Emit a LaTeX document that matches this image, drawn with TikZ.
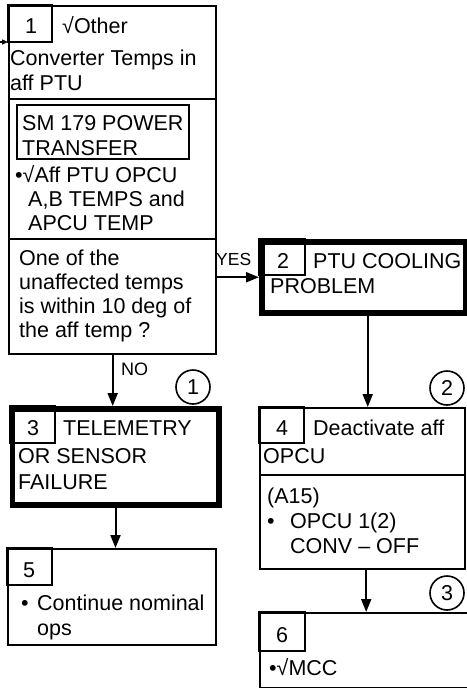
\documentclass[tikz,border=0pt]{standalone}
\usepackage{fontspec}
\setmainfont{Liberation Sans}
\usetikzlibrary{arrows.meta}
\begin{document}
\begin{tikzpicture}[x=1pt,y=-1pt,
  box/.style={draw, line width=2.4pt, inner sep=0pt, anchor=north west},
  thickbox/.style={box, line width=5.5pt},
  numbox/.style={draw, line width=1.8pt},
  divider/.style={draw, line width=2.4pt},
  txt/.style={anchor=base west, inner sep=0pt, font=\fontsize{21.5}{25}\selectfont},
  num/.style={anchor=base, inner sep=0pt, font=\fontsize{21.5}{25}\selectfont},
  lbl/.style={anchor=base west, inner sep=0pt, font=\fontsize{17.5}{20}\selectfont},
  arr/.style={line width=2pt, -{Triangle[length=13pt,width=10pt]}},
  circ/.style={circle, draw, line width=1.6pt, minimum size=34pt, inner sep=0pt, font=\fontsize{21.5}{25}\selectfont}]
\useasboundingbox (0,0) rectangle (466,688);

% boxes
\node[box, minimum width=207pt, minimum height=348pt] (b1) at (8,5) {};
\node[thickbox, minimum width=204pt, minimum height=71pt] (b2) at (259,239) {};
\node[thickbox, minimum width=206.5pt, minimum height=96pt] (b3) at (9.5,406) {};
\node[box, minimum width=205pt, minimum height=161pt] (b4) at (259,407) {};
\node[box, minimum width=208pt, minimum height=96pt] (b5) at (7,548) {};
\node[box, minimum width=209pt, minimum height=75pt] (b6) at (259,612) {};

% box 1 contents
\draw[numbox] (8,5) rectangle (52,42);
\node[num] (n1) at (31,33) {1};
\node[txt] (t1a) at (62,33) {√Other};
\node[txt] (t1b) at (10,65) {Converter Temps in};
\node[txt] (t1c) at (10,90) {aff PTU};
\draw[divider] (8,99) -- (215,99);
\draw[numbox] (17,105) rectangle (189,159);
\node[txt] (t1d) at (22,130) {SM 179 POWER};
\node[txt] (t1e) at (22,155) {TRANSFER};
\node[txt] (t1f) at (15,182) {•√Aff PTU OPCU};
\node[txt] (t1g) at (28,206) {A,B TEMPS and};
\node[txt] (t1h) at (28,230) {APCU TEMP};
\draw[divider] (8,239) -- (215,239);
\node[txt] (t1i) at (19,265) {One of the};
\node[txt] (t1j) at (19,289) {unaffected temps};
\node[txt] (t1k) at (19,313) {is within 10 deg of};
\node[txt] (t1l) at (19,337) {the aff temp ?};

% box 2 contents
\draw[numbox] (259,239) rectangle (305,275);
\node[num] (n2) at (283,268) {2};
\node[txt] (t2a) at (313,268) {PTU COOLING};
\node[txt] (t2b) at (270,293) {PROBLEM};

% box 3 contents
\draw[numbox] (9.5,406) rectangle (55,443);
\node[num] (n3) at (33,435) {3};
\node[txt] (t3a) at (63,435) {TELEMETRY};
\node[txt] (t3b) at (18,463) {OR SENSOR};
\node[txt] (t3c) at (18,489) {FAILURE};

% box 4 contents
\draw[numbox] (259,407) rectangle (304,443);
\node[num] (n4) at (282,435) {4};
\node[txt] (t4a) at (313,435) {Deactivate aff};
\node[txt] (t4b) at (263,463) {OPCU};
\draw[divider] (259,475) -- (464,475);
\node[txt] (t4c) at (267,503) {(A15)};
\node[txt] (t4d) at (267,528) {•};
\node[txt] (t4e) at (290,528) {OPCU 1(2)};
\node[txt] (t4f) at (290,553) {CONV – OFF};

% box 5 contents
\draw[numbox] (7,548) rectangle (52,585);
\node[num] (n5) at (29,577) {5};
\node[txt] (t5a) at (21,610) {•};
\node[txt] (t5b) at (37,610) {Continue nominal};
\node[txt] (t5c) at (37,635) {ops};

% box 6 contents
\draw[numbox] (259,612) rectangle (305,651);
\node[num] (n6) at (282,642) {6};
\node[txt] (t6a) at (269,675) {•√MCC};

% circles
\node[circ] (c1) at (193,387) {1};
\node[circ] (c2) at (447,388) {2};
\node[circ] (c3) at (447,593) {3};

% connectors
\coordinate (in) at (0,42);
\draw[line width=1.4pt, -{Triangle[length=6pt,width=5pt]}] (in) -- (in -| b1.west);
\draw[arr] (b1.east |- b2.west) -- (b2.west);
\node[lbl] (yes) at (216,265) {YES};
\draw[arr] (b1.south) -- (b1.south |- b3.north);
\node[lbl, font=\fontsize{18}{20}\selectfont] (no) at (121,375) {NO};
\draw[arr] (b3.south) -- (b3.south |- b5.north);
\draw[arr] ([xshift=4pt]b2.south) -- ([xshift=4pt]b2.south |- b4.north);
\draw[arr] ([xshift=3.5pt]b4.south) -- ([xshift=3.5pt]b4.south |- b6.north);
\end{tikzpicture}
\end{document}
